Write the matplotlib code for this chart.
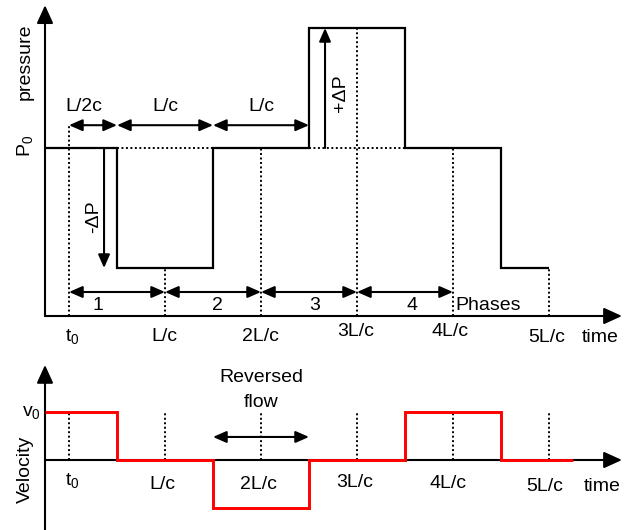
import numpy as np
import matplotlib
matplotlib.use("Agg")
import matplotlib.pyplot as plt

plt.rcParams['font.family'] = ['Liberation Sans', 'DejaVu Sans']
plt.rcParams['mathtext.fontset'] = 'custom'
plt.rcParams['mathtext.rm'] = 'Liberation Sans'
plt.rcParams['mathtext.default'] = 'regular'

# ---------------- data (time in units of L/c) ----------------
p_edges = [-0.25, 0.5, 1.5, 2.5, 3.5, 4.5, 5.0]      # pressure step edges
p_levels = [0, -1, 0, 1, 0, -1]                       # pressure (units of dP above P0)
v_edges = [-0.25, 0.5, 1.5, 2.5, 3.5, 4.5, 5.25]     # velocity step edges
v_levels = [1, 0, -1, 0, 1, 0]                        # velocity (units of v0)
tick_times = [0, 1, 2, 3, 4, 5]
tick_labels = ['t$_0$', 'L/c', '2L/c', '3L/c', '4L/c', '5L/c']
dim_segments = [(0, 0.5), (0.5, 1.5), (1.5, 2.5)]
dim_labels = ['L/2c', 'L/c', 'L/c']
phase_segments = [(0, 1), (1, 2), (2, 3), (3, 4)]
phase_labels = ['1', '2', '3', '4']
reversed_span = (1.5, 2.5)

FS = 14
W, H = 628, 530
fig = plt.figure(figsize=(W / 100, H / 100), dpi=100)

# px mapping: t0 at x=69 px, 96 px per L/c
XL = (-69 / 96, (W - 69) / 96)
top_h = 345
axp = fig.add_axes([0, (H - top_h) / H, 1, top_h / H])
axp.set_xlim(*XL)
axp.set_ylim((148 - top_h) / 120, 148 / 120)
axp.axis('off')
axv = fig.add_axes([0, 0, 1, (H - top_h) / H])
axv.set_xlim(*XL)
axv.set_ylim((460 - H) / 48, (460 - top_h) / 48)
axv.axis('off')

def arrow(ax, start, end, style='-|>', hl=1.0, hw=0.45, lw=1.5):
    ax.annotate('', xy=end, xytext=start,
                arrowprops=dict(arrowstyle=f'{style},head_length={hl},head_width={hw}',
                                lw=lw, color='black', mutation_scale=10,
                                shrinkA=0, shrinkB=0))

dot = dict(color='black', lw=1.4, linestyle=(0, (1, 1.3)))

# ---------------- pressure panel ----------------
y_axis_t = p_edges[0]
p_time_axis = -1.4
arrow(axp, (y_axis_t, p_time_axis), (5.76, p_time_axis), hl=1.1, hw=0.5)
arrow(axp, (y_axis_t, p_time_axis), (y_axis_t, 1.19), hl=1.1, hw=0.5)

# dotted verticals
dim_y = 0.19
for t in tick_times:
    if t == 0:
        top = dim_y
    else:
        idx = min(np.searchsorted(p_edges, t, side='right') - 1, len(p_levels) - 1)
        top = p_levels[idx]
    axp.plot([t, t], [p_time_axis, top], **dot)
# dotted P0 during deviations
for i, lev in enumerate(p_levels):
    if lev != 0 and i < len(p_levels) - 1:
        axp.plot([p_edges[i], p_edges[i + 1]], [0, 0], **dot)

axp.stairs(p_levels, p_edges, baseline=None, color='black', lw=1.6)

# dimension arrows
for (a, b), lab in zip(dim_segments, dim_labels):
    arrow(axp, (a, dim_y), (b, dim_y), style='<|-|>', hl=0.8, hw=0.35)
axp.text(0.15, 0.345, dim_labels[0], ha='center', va='center', fontsize=FS)
for (a, b), lab in zip(dim_segments[1:], dim_labels[1:]):
    axp.text((a + b) / 2, 0.345, lab, ha='center', va='center', fontsize=FS)

# +/- dP arrows
arrow(axp, (0.365, 0), (0.365, min(p_levels)), hl=0.8, hw=0.35)
axp.text(0.26, -0.575, '-ΔP', rotation=90, ha='center', va='center', fontsize=FS)
arrow(axp, (2.667, 0), (2.667, max(p_levels)), hl=0.8, hw=0.35)
axp.text(2.83, 0.46, '+ΔP', rotation=90, ha='center', va='center', fontsize=FS)

# phases
phase_y = -1.2
phase_text_x = [0.3, 1.55, 2.56, 3.57]
for (a, b), lab, tx in zip(phase_segments, phase_labels, phase_text_x):
    arrow(axp, (a, phase_y), (b, phase_y), style='<|-|>', hl=0.8, hw=0.35)
    axp.text(tx, -1.31, lab, ha='center', va='center', fontsize=FS)
axp.text(4.02, -1.31, 'Phases', ha='left', va='center', fontsize=FS)

# labels
axp.text(-0.458, 0.717, 'pressure', rotation=90, ha='center', va='center', fontsize=FS)
axp.text(-0.458, 0.017, 'P$_0$', rotation=90, ha='center', va='center', fontsize=FS)
top_lab_pos = [(0.03, -1.567), (0.99, -1.567), (1.99, -1.567),
               (2.99, -1.525), (3.97, -1.525), (4.98, -1.575)]
for lab, (tx, ty) in zip(tick_labels, top_lab_pos):
    axp.text(tx, ty, lab, ha='center', va='center', fontsize=FS)
axp.text(5.53, -1.575, 'time', ha='center', va='center', fontsize=FS)

# ---------------- velocity panel ----------------
arrow(axv, (y_axis_t, 0), (5.76, 0), hl=1.1, hw=0.5)
arrow(axv, (y_axis_t, -1.46), (y_axis_t, 1.98), hl=1.1, hw=0.5)
for t in tick_times:
    axv.plot([t, t], [0, max(v_levels)], **dot)
axv.stairs(v_levels, v_edges, baseline=None, color='#ff0000', lw=2.1, zorder=3)

arrow(axv, (reversed_span[0], 0.48), (reversed_span[1], 0.48), style='<|-|>', hl=0.8, hw=0.35)
axv.text(sum(reversed_span) / 2, 1.71, 'Reversed', ha='center', va='center', fontsize=FS)
axv.text(sum(reversed_span) / 2, 1.19, 'flow', ha='center', va='center', fontsize=FS)

axv.text(-0.29, 0.98, 'v$_0$', ha='right', va='center', fontsize=FS)
axv.text(-0.458, -0.19, 'Velocity', rotation=90, ha='center', va='center', fontsize=FS)
bot_lab_pos = [(0.03, -0.42), (0.97, -0.52), (1.97, -0.52),
               (2.98, -0.46), (3.95, -0.48), (4.96, -0.56)]
for lab, (tx, ty) in zip(tick_labels, bot_lab_pos):
    axv.text(tx, ty, lab, ha='center', va='center', fontsize=FS)
axv.text(5.55, -0.56, 'time', ha='center', va='center', fontsize=FS)

fig.savefig('out.png', dpi=100)
